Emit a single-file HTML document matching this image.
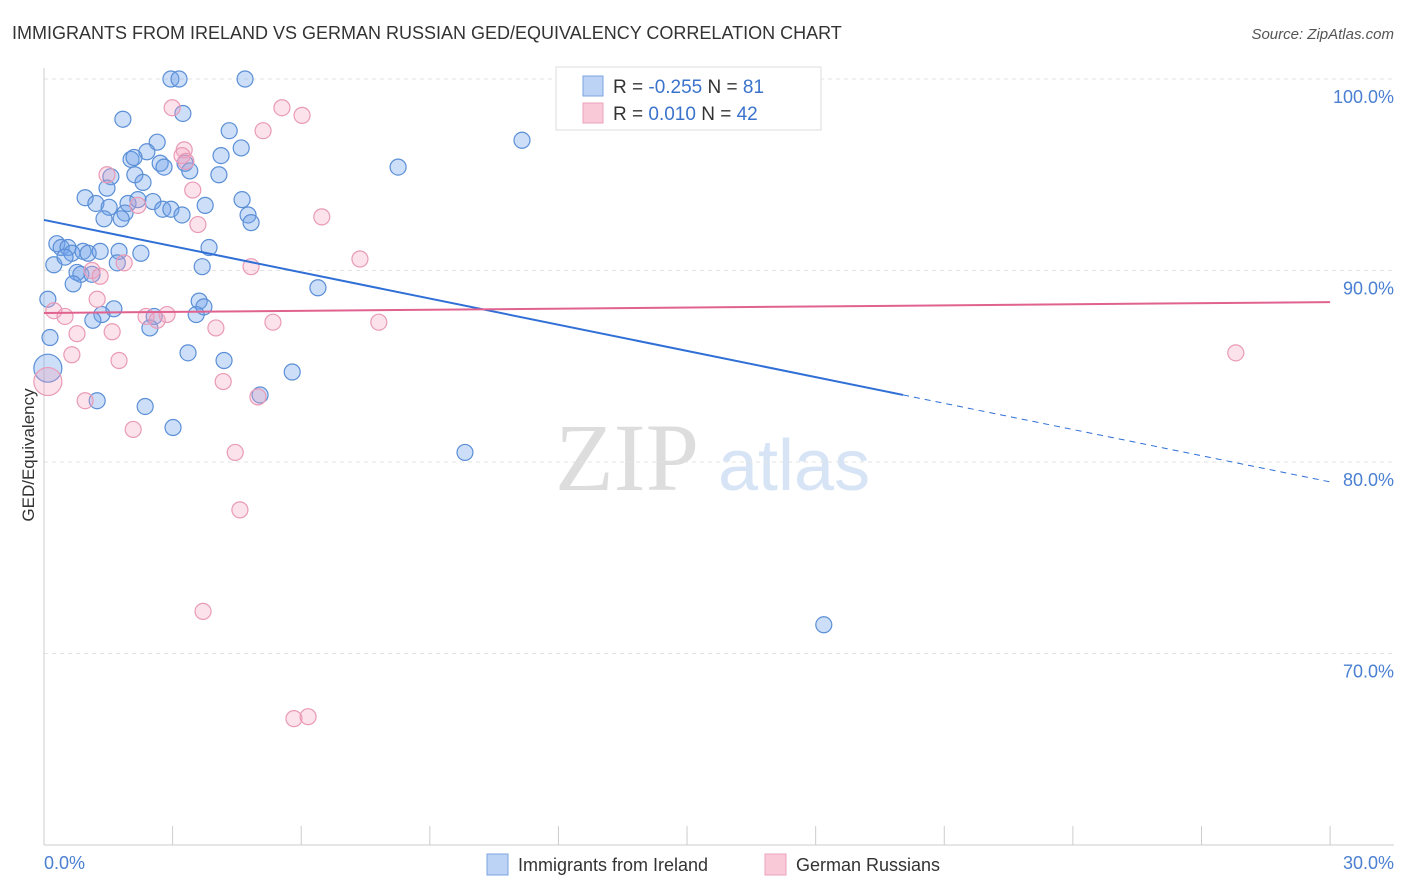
<!DOCTYPE html>
<html><head><meta charset="utf-8"><style>
body{margin:0;background:#fff;font-family:"Liberation Sans",sans-serif}
svg{display:block}
</style></head><body>
<svg width="1406" height="892" xmlns="http://www.w3.org/2000/svg">
<text x="12" y="39" font-size="18" fill="#333">IMMIGRANTS FROM IRELAND VS GERMAN RUSSIAN GED/EQUIVALENCY CORRELATION CHART</text>
<text x="1394" y="39" font-size="15" fill="#555" font-style="italic" text-anchor="end">Source: ZipAtlas.com</text>
<text x="555" y="490" font-size="96" fill="#ddd" font-family="Liberation Serif">ZIP</text>
<text x="718" y="490" font-size="72" fill="#d7e4f5">atlas</text>
<g id="grid"></g><g id="axes"></g><g id="marks"></g><g id="lines"></g>
<text transform="translate(34,455) rotate(-90)" font-size="17" fill="#333" text-anchor="middle">GED/Equivalency</text>
<text x="44" y="869" font-size="18" fill="#4a7fd1">0.0%</text>
<text x="1394" y="869" font-size="18" fill="#4a7fd1" text-anchor="end">30.0%</text>
<g>
<rect x="556" y="67" width="265" height="63" fill="#fff" stroke="#ddd"/>
<rect x="583" y="76" width="20" height="20" fill="#bcd3f5" stroke="#7aa4e0"/>
<rect x="583" y="103" width="20" height="20" fill="#f9c9d8" stroke="#eba1bb"/>
<text x="613" y="93" font-size="19" fill="#333">R = <tspan fill="#3b73cc">-0.255</tspan>   N = <tspan fill="#3b73cc">81</tspan></text>
<text x="613" y="120" font-size="19" fill="#333">R = <tspan fill="#3b73cc"> 0.010</tspan>   N = <tspan fill="#3b73cc">42</tspan></text>
</g>
<g>
<rect x="487" y="854" width="21" height="21" fill="#bcd3f5" stroke="#7aa4e0"/>
<text x="518" y="871" font-size="18" fill="#333">Immigrants from Ireland</text>
<rect x="765" y="854" width="21" height="21" fill="#f9c9d8" stroke="#eba1bb"/>
<text x="796" y="871" font-size="18" fill="#333">German Russians</text>
</g>
</svg>
<script>
const yTicks=[100,90,80,70];
const yTickLabels=["100.0%","90.0%","80.0%","70.0%"];
const xTicks=[0,3,6,9,12,15,18,21,24,27,30];
const blueX=[2.96,3.15,4.69,1.84,3.24,2.64,4.32,4.6,2.4,2.03,2.1,2.71,3.29,2.8,3.4,4.13,4.08,1.56,2.12,2.31,1.47,0.96,1.21,1.52,1.96,2.19,2.54,2.77,2.96,3.22,3.76,4.62,4.76,4.83,1.89,1.8,1.4,8.26,11.15,0.3,0.4,0.56,0.65,0.91,1.03,1.31,0.23,0.49,1.75,2.26,1.71,3.85,3.69,0.77,0.86,1.12,0.68,6.39,0.09,1.63,3.62,3.73,3.55,1.35,1.14,2.57,2.47,0.14,3.36,4.2,5.79,0.09,5.04,1.24,2.36,3.01,9.82,18.19];
const blueY=[100,100,100,97.9,98.2,96.7,97.3,96.4,96.2,95.8,95.9,95.6,95.6,95.4,95.2,96.0,95.0,94.9,95.0,94.6,94.3,93.8,93.5,93.3,93.5,93.7,93.6,93.2,93.2,92.9,93.4,93.7,92.9,92.5,93.0,92.7,92.7,95.4,96.8,91.4,91.2,91.2,90.9,91.0,90.9,91.0,90.3,90.7,91.0,90.9,90.4,91.2,90.2,89.9,89.8,89.8,89.3,89.1,88.5,88.0,88.4,88.1,87.7,87.7,87.4,87.6,87.0,86.5,85.7,85.3,84.7,84.9,83.5,83.2,82.9,81.8,80.5,71.5];
const pinkX=[12.46,2.99,5.55,6.02,5.11,3.27,3.22,3.31,1.47,3.47,2.19,6.48,3.59,7.37,4.83,1.87,1.12,1.31,1.24,0.23,0.49,2.38,2.87,2.64,5.34,7.81,4.01,0.77,1.59,0.65,1.75,27.8,0.09,4.18,4.99,0.96,2.08,4.46,4.57,3.71,5.83,6.16];
const pinkY=[100,98.5,98.5,98.1,97.3,96.3,96.0,95.7,95.0,94.2,93.4,92.8,92.4,90.6,90.2,90.4,90.0,89.7,88.5,87.9,87.6,87.6,87.7,87.4,87.3,87.3,87.0,86.7,86.8,85.6,85.3,85.7,84.2,84.2,83.4,83.2,81.7,80.5,77.5,72.2,66.6,66.7];
const blueTrend=[92.64,78.96]; const blueSolidEnd=20.04;
const pinkTrend=[87.78,88.35];
const NS="http://www.w3.org/2000/svg";
const sx=v=>44+v*42.87, sy=v=>79+(100-v)*19.15;
function mk(t,a,p){const e=document.createElementNS(NS,t);for(const k in a)e.setAttribute(k,a[k]);document.getElementById(p).appendChild(e);return e;}
yTicks.forEach((t,i)=>{
 const l=mk('line',{x1:44,x2:1394,y1:sy(t),y2:sy(t),stroke:'#e3e3e3','stroke-dasharray':'4,4'},'grid');
 
 
 const tx=mk('text',{x:1394,y:sy(t)+24,'font-size':18,fill:'#4a7fd1','text-anchor':'end'},'grid');
 tx.textContent=yTickLabels[i];
 
 
});
const xa=mk('line',{x1:44,x2:1394,y1:845,y2:845,stroke:'#ccc'},'axes');


const ya=mk('line',{x1:44,x2:44,y1:68,y2:845,stroke:'#ccc'},'axes');


xTicks.forEach(t=>{const l=mk('line',{x1:sx(t),x2:sx(t),y1:826,y2:845,stroke:'#ccc'},'axes');
 
 });
function pts(X,Y,fill,stroke,name){X.forEach((x,i)=>{
 const big=x<0.2&&(i%1===0)&&((name==='blue-point'&&Y[i]<86)||(name==='pink-point'&&Y[i]<85));
 const c=mk('circle',{cx:sx(x),cy:sy(Y[i]),r:big?14:8,fill:fill,stroke:stroke,'stroke-width':1.2},'marks');
 
 });}
pts(blueX,blueY,'rgba(110,160,235,0.35)','#5b8fd6','blue-point');
pts(pinkX,pinkY,'rgba(245,160,190,0.3)','#e99ab6','pink-point');
const by=x=>blueTrend[0]+(blueTrend[1]-blueTrend[0])*x/30;
const b1=mk('line',{x1:sx(0),y1:sy(by(0)),x2:sx(blueSolidEnd),y2:sy(by(blueSolidEnd)),stroke:'#2f6fd6','stroke-width':2},'lines');


const b2=mk('line',{x1:sx(blueSolidEnd),y1:sy(by(blueSolidEnd)),x2:sx(30),y2:sy(by(30)),stroke:'#2f6fd6','stroke-width':1,'stroke-dasharray':'6,5'},'lines');


const p1=mk('line',{x1:sx(0),y1:sy(pinkTrend[0]),x2:sx(30),y2:sy(pinkTrend[1]),stroke:'#e0628f','stroke-width':2},'lines');


</script>
</body></html>
